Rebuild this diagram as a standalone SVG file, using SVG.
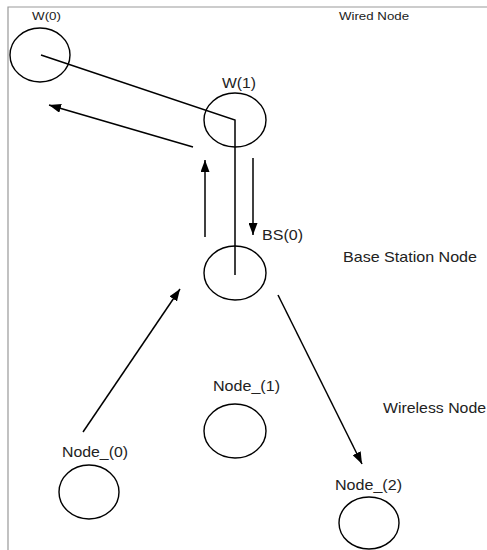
<svg xmlns="http://www.w3.org/2000/svg" width="487" height="550" viewBox="0 0 487 550">
<defs>
<marker id="ah" viewBox="0 0 12 9" refX="12" refY="4.5" markerWidth="12" markerHeight="9" markerUnits="userSpaceOnUse" orient="auto">
<path d="M0,0 L12,4.5 L0,9 Z" fill="#000"/>
</marker>
</defs>
<style>
.node ellipse{fill:none;stroke:#000;stroke-width:1.4}
text{font-family:"Liberation Sans",Arial,sans-serif;fill:#222}
.lbl{font-size:14.5px}
.sm{font-size:11.5px}
.conn line,.conn polyline{stroke:#000;stroke-width:1.5;fill:none}
.frame{stroke:#999;stroke-width:1.2;fill:none}
</style>
<rect width="487" height="550" fill="#fff"/>
<path class="frame" d="M8,550 L8,7 L487,7"/>
<g id="W0" class="node"><ellipse cx="40" cy="55" rx="30" ry="27"/><text class="sm" x="32" y="20" textLength="29" lengthAdjust="spacingAndGlyphs">W(0)</text></g>
<g id="W1" class="node"><ellipse cx="235" cy="120" rx="31" ry="27"/><text class="lbl" x="222" y="88" textLength="34" lengthAdjust="spacingAndGlyphs">W(1)</text></g>
<g id="BS0" class="node"><ellipse cx="235" cy="273" rx="31" ry="27"/><text class="lbl" x="262" y="240" textLength="41" lengthAdjust="spacingAndGlyphs">BS(0)</text></g>
<g id="N0" class="node"><ellipse cx="89" cy="492" rx="30" ry="27"/><text class="lbl" x="62" y="457" textLength="66" lengthAdjust="spacingAndGlyphs">Node_(0)</text></g>
<g id="N1" class="node"><ellipse cx="235" cy="431" rx="31" ry="27"/><text class="lbl" x="213" y="391" textLength="67" lengthAdjust="spacingAndGlyphs">Node_(1)</text></g>
<g id="N2" class="node"><ellipse cx="369" cy="523" rx="30" ry="26"/><text class="lbl" x="335" y="490" textLength="67" lengthAdjust="spacingAndGlyphs">Node_(2)</text></g>
<text class="sm" x="339" y="20" textLength="70" lengthAdjust="spacingAndGlyphs">Wired Node</text>
<text class="lbl" x="343" y="262" textLength="134" lengthAdjust="spacingAndGlyphs">Base Station Node</text>
<text class="lbl" x="383" y="413" textLength="103" lengthAdjust="spacingAndGlyphs">Wireless Node</text>
<g id="connectors" class="conn">
<polyline points="41,55 235,120 235,275"/>
<line x1="193" y1="147" x2="49" y2="105" marker-end="url(#ah)"/>
<line x1="205" y1="237" x2="205" y2="160" marker-end="url(#ah)"/>
<line x1="253" y1="158" x2="253" y2="235" marker-end="url(#ah)"/>
<line x1="83" y1="432" x2="180" y2="289" marker-end="url(#ah)"/>
<line x1="278" y1="295" x2="362" y2="464" marker-end="url(#ah)"/>
</g>
</svg>
